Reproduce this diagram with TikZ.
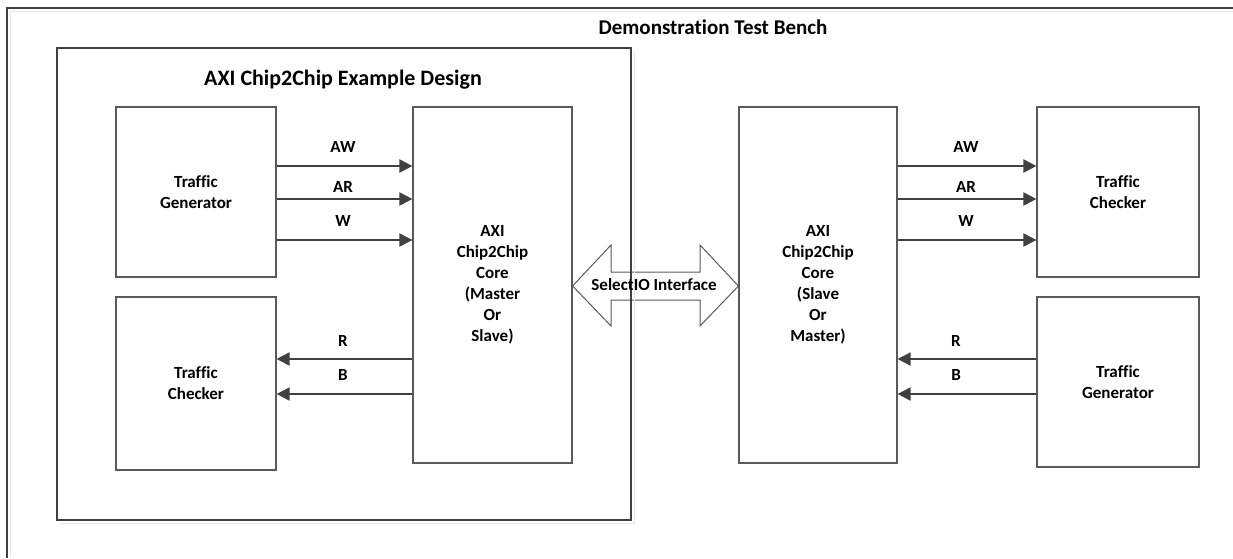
\documentclass[tikz,border=0pt]{standalone}
\usepackage{fontspec}
\setmainfont{Carlito}[Ligatures=NoCommon]
\usetikzlibrary{arrows.meta}
\definecolor{lineDark}{HTML}{404040}
\definecolor{lineBox}{HTML}{5A5A5A}
\definecolor{shadowC}{HTML}{E8E8E8}
\tikzset{
  blk/.style={draw=lineBox, line width=1.2pt, fill=white, align=center,
    font=\fontsize{17}{21}\selectfont\bfseries, inner sep=0pt},
  sig/.style={draw=lineDark, line width=2pt, -{Triangle[length=13pt,width=13pt]}},
  lbl/.style={font=\fontsize{17}{21}\selectfont\bfseries, inner sep=0pt},
  ttl/.style={font=\fontsize{21}{25}\selectfont\bfseries, inner sep=0pt},
}
\begin{document}
\begin{tikzpicture}[x=1pt,y=-1pt]
\useasboundingbox (0,0) rectangle (1233,558);
\fill[white] (0,0) rectangle (1233,558);
% outer test bench border (extends beyond the picture)
\draw[shadowC, line width=1pt] (1233,11) -- (10,11) -- (10,558);
\draw[lineDark, line width=1.5pt] (1233,8) -- (7,8) -- (7,558);
\node[ttl] (tbtitle) at (713,27) {Demonstration Test Bench};

% blocks
\node[blk, minimum width=160pt, minimum height=170pt] (tgL) at (196,192) {Traffic\\Generator};
\node[blk, minimum width=160pt, minimum height=173pt] (tcL) at (196,383.5) {Traffic\\Checker};
\node[blk, minimum width=159pt, minimum height=356pt] (coreL) at (492.5,285) {AXI\\Chip2Chip\\Core\\(Master\\Or\\Slave)};
\node[blk, minimum width=158pt, minimum height=356pt] (coreR) at (818,285) {AXI\\Chip2Chip\\Core\\(Slave\\Or\\Master)};
\node[blk, minimum width=162pt, minimum height=170pt] (tcR) at (1118,192) {Traffic\\Checker};
\node[blk, minimum width=162pt, minimum height=170pt] (tgR) at (1118,382) {Traffic\\Generator};

% SelectIO double arrow
\coordinate (lt) at (coreL.east |- 0,286);
\coordinate (rt) at (coreR.west |- 0,286);
\draw[lineBox, line width=1pt, fill=white]
  (lt) -- (611,245) -- (611,272) -- (700,272) -- (700,245) -- (rt)
  -- (700,326) -- (700,300) -- (611,300) -- (611,326) -- cycle;

% example design box (drawn over the arrow)
\draw[shadowC, line width=1pt] (60,523) -- (634,523) -- (634,51);
\draw[lineDark, line width=1.2pt] (57,48) rectangle (631,520);
\node[ttl, font=\fontsize{22}{26}\selectfont\bfseries] (edtitle) at (343,80) {AXI Chip2Chip Example Design};
\node[lbl] (sio) at (654,285) {SelectIO Interface};

% left side signals
\draw[sig] (tgL.east |- 0,166) -- (coreL.west |- 0,166);
\draw[sig] (tgL.east |- 0,199) -- (coreL.west |- 0,199);
\draw[sig] (tgL.east |- 0,240) -- (coreL.west |- 0,240);
\draw[sig] (coreL.west |- 0,359) -- (tcL.east |- 0,359);
\draw[sig] (coreL.west |- 0,394) -- (tcL.east |- 0,394);
\node[lbl] (awL) at (343,147) {AW};
\node[lbl] (arL) at (343,187) {AR};
\node[lbl] (wL) at (343,221) {W};
\node[lbl] (rL) at (343,341) {R};
\node[lbl] (bL) at (343,375) {B};

% right side signals
\draw[sig] (coreR.east |- 0,166) -- (tcR.west |- 0,166);
\draw[sig] (coreR.east |- 0,199) -- (tcR.west |- 0,199);
\draw[sig] (coreR.east |- 0,240) -- (tcR.west |- 0,240);
\draw[sig] (tgR.west |- 0,359) -- (coreR.east |- 0,359);
\draw[sig] (tgR.west |- 0,394) -- (coreR.east |- 0,394);
\node[lbl] (awR) at (966,147) {AW};
\node[lbl] (arR) at (966,187) {AR};
\node[lbl] (wR) at (966,221) {W};
\node[lbl] (rR) at (956,341) {R};
\node[lbl] (bR) at (956,375) {B};
\end{tikzpicture}
\end{document}
